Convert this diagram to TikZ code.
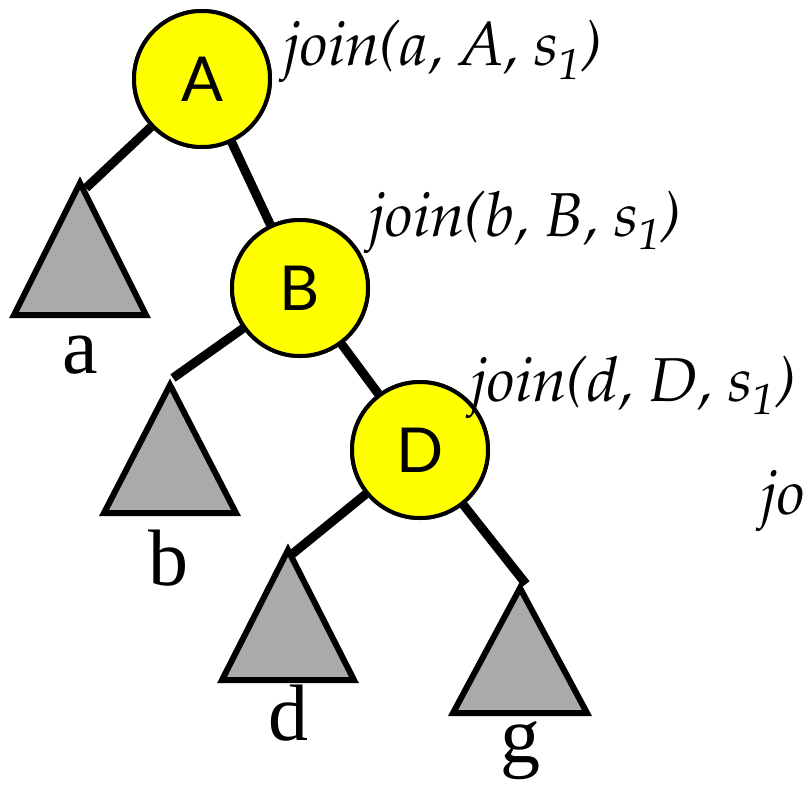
\documentclass[tikz,border=0pt]{standalone}
\usepackage{fontspec}
\usepackage{tikz}
\usetikzlibrary{positioning,calc}
\definecolor{KeyYellow}{RGB}{255,255,0}
\definecolor{TreeGray}{RGB}{170,170,170}
\newfontfamily\keyfont{Lato}
\newfontfamily\leaffont{Liberation Serif}
\newcommand{\joinfont}{\fontencoding{OT1}\fontfamily{ppl}\fontshape{it}\selectfont}
\tikzset{
	key/.style={circle,draw=black,fill=KeyYellow,line width=2pt,minimum size=68pt,inner sep=0pt,
		font=\keyfont\fontsize{31}{31}\selectfont},
	link/.style={draw=black,line width=4.5pt},
	tree/.style={draw=black,fill=TreeGray,line width=3pt},
	leaf/.style={font=\leaffont\fontsize{40}{40}\selectfont,inner sep=0pt,anchor=base},
	call/.style={font=\joinfont\fontsize{31}{31}\selectfont,inner sep=0pt,anchor=base west},
}
\begin{document}
\begin{tikzpicture}[x=0.5pt,y=-0.5pt]
	\useasboundingbox (0,0) rectangle (806,792);
	% keys
	\node[key] (A) at (202,79) {A};
	\node[key] (B) at (300,288) {B};
	\node[key] (D) at (420,450) {D};
	% subtree tops
	\coordinate (ta) at (80,183);
	\coordinate (tb) at (170,385);
	\coordinate (td) at (288,550);
	\coordinate (tg) at (520,588);
	\coordinate (ea) at (86,188);
	\coordinate (eb) at (173,378);
	\coordinate (ed) at (291,555);
	\coordinate (eg) at (526,584);
	% links
	\draw[link] (A) -- (ea);
	\draw[link] (A) -- (B);
	\draw[link] (B) -- (eb);
	\draw[link] (B) -- (D);
	\draw[link] (D) -- (ed);
	\draw[link] (D) -- (eg);
	% subtrees
	\draw[tree] (ta) -- ++(66,132) -- ++(-132,0) -- cycle;
	\draw[tree] (tb) -- ++(66,128) -- ++(-132,0) -- cycle;
	\draw[tree] (td) -- ++(66,130) -- ++(-132,0) -- cycle;
	\draw[tree] (tg) -- ++(67,125) -- ++(-134,0) -- cycle;
	% redraw keys on top
	\node[key] at (A) {A};
	\node[key] at (B) {B};
	\node[key] at (D) {D};
	% leaf names
	\node[leaf] (la) at (80,373) {a};
	\node[leaf] (lb) at (168,585) {b};
	\node[leaf] (ld) at (288,740) {d};
	\node[leaf] (lg) at (520,762) {g};
	% join calls
	\node[call] (jA) at (283,66) {join(a, A, s\textsubscript{1})};
	\node[call] (jB) at (368,236) {join(b, B, s\textsubscript{1})};
	\node[call] (jD) at (470,401) {join(d, D, s\textsubscript{1})};
	\node[call] (jG) at (760,514) {jo};
\end{tikzpicture}
\end{document}
